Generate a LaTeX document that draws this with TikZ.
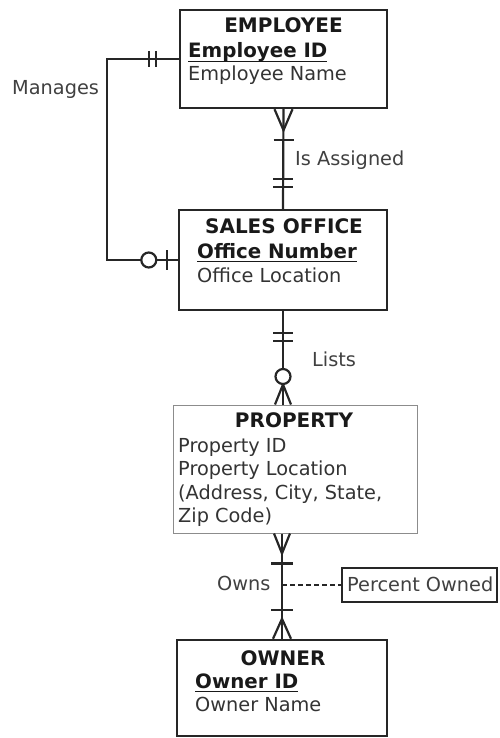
\documentclass[tikz,border=0pt]{standalone}
\usepackage{fontspec}
\setmainfont{DejaVu Sans}
\usetikzlibrary{calc}
\newcommand\myul[1]{\setbox0\hbox{#1}\rlap{\rule[-4pt]{\wd0}{1.4pt}}\box0}
\begin{document}
\begin{tikzpicture}[x=1pt,y=-1pt,
  ent/.style={draw=black!85, line width=2.4pt, inner sep=0, rectangle},
  prp/.style={draw=black!45, line width=1pt, inner sep=0, rectangle},
  txt/.style={inner sep=0, anchor=base west, font=\fontsize{19.3}{23}\selectfont, text=black!80},
  key/.style={inner sep=0, anchor=base west, font=\fontsize{19.8}{23}\selectfont\bfseries, text=black!90},
  hd/.style={inner sep=0, anchor=base, font=\fontsize{20}{23}\selectfont\bfseries, text=black!90},
  lbl/.style={inner sep=0, anchor=base west, font=\fontsize{19.3}{23}\selectfont, text=black!75},
  con/.style={draw=black!85, line width=2.2pt},
  circ/.style={draw=black!85, line width=2.2pt, fill=white}]
\useasboundingbox (0,0) rectangle (499,738);

% entity boxes
\node[ent, minimum width=207pt, minimum height=98pt] (emp) at (283.5,59) {};
\node[ent, minimum width=208pt, minimum height=100pt] (so) at (283,260) {};
\node[prp, minimum width=244pt, minimum height=128pt] (prop) at (295,469) {};
\node[ent, minimum width=210pt, minimum height=96pt] (own) at (282,688) {};
\node[ent, minimum width=155pt, minimum height=34pt] (pct) at (419.5,585) {};

% texts
\node[hd] (empH) at (283.5,33) {EMPLOYEE};
\node[key] (empId) at (188,58) {\myul{Employee ID}};
\node[txt] (empNm) at (188,81) {Employee Name};

\node[hd] (soH) at (284,233) {SALES OFFICE};
\node[key] (soNum) at (197,258) {\myul{Office Number}};
\node[txt] (soLoc) at (197,282) {Office Location};

\node[hd] (prH) at (294,427) {PROPERTY};
\node[txt] (prId) at (178,452) {Property ID};
\node[txt] (prLoc) at (178,475) {Property Location};
\node[txt] (prAd) at (178,499) {(Address, City, State,};
\node[txt] (prZip) at (178,522) {Zip Code)};

\node[hd] (owH) at (283,665) {OWNER};
\node[key] (owId) at (195,688) {\myul{Owner ID}};
\node[txt] (owNm) at (195,711) {Owner Name};

\node[lbl] (pctT) at (347,591) {Percent Owned};

% relationship labels
\node[lbl] (lMan) at (12,95) {Manages};
\node[lbl] (lAss) at (295,165) {Is Assigned};
\node[lbl] (lList) at (312,366) {Lists};
\node[lbl] (lOwn) at (217,590) {Owns};

% Manages (recursive)
\coordinate (mg) at ($(emp.west)+(-72,0)$);
\draw[con] (emp.west) -- (mg) |- (so.west);
\draw[con] ($(emp.west)+(-30,-8)$) -- ++(0,16);
\draw[con] ($(emp.west)+(-23,-8)$) -- ++(0,16);
\draw[con] ($(so.west)+(-11,-10)$) -- ++(0,20);
\draw[circ] ($(so.west)+(-29,0)$) circle (7.5);

% Is Assigned
\draw[con] (emp.south) -- (so.north);
\draw[con] ($(emp.south)+(-9,0)$) -- ($(emp.south)+(0,21)$) -- ($(emp.south)+(9,0)$);
\draw[con] ($(emp.south)+(-10,31)$) -- ++(20,0);
\draw[con] ($(so.north)+(-10,-30)$) -- ++(20,0);
\draw[con] ($(so.north)+(-10,-22)$) -- ++(20,0);

% Lists
\coordinate (lp) at (prop.north -| so.south);
\draw[con] (so.south) -- (lp);
\draw[con] ($(so.south)+(-10,22)$) -- ++(20,0);
\draw[con] ($(so.south)+(-10,30)$) -- ++(20,0);
\draw[con] ($(lp)+(-8,0)$) -- ($(lp)+(0,-20)$) -- ($(lp)+(8,0)$);
\draw[circ] ($(lp)+(0,-28)$) circle (7.5);

% Owns
\coordinate (op) at (prop.south -| own.north);
\draw[con] (op) -- (own.north);
\draw[con] ($(op)+(-8,0)$) -- ($(op)+(0,20)$) -- ($(op)+(8,0)$);
\draw[con] ($(op)+(-11,30)$) -- ++(22,0);
\draw[con] ($(own.north)+(-11,-29)$) -- ++(22,0);
\draw[con] ($(own.north)+(-9,0)$) -- ($(own.north)+(0,-20)$) -- ($(own.north)+(9,0)$);
\draw[con, line width=1.6pt, dash pattern=on 5pt off 3pt] (pct.west -| own.north) -- (pct.west);
\end{tikzpicture}
\end{document}
